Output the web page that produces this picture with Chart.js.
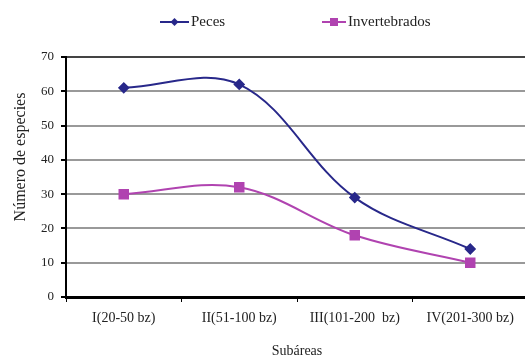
<!DOCTYPE html>
<html>
<head>
<meta charset="utf-8">
<script src="https://cdn.jsdelivr.net/npm/chart.js@4/dist/chart.umd.min.js"></script>
<style>
  html, body { margin: 0; padding: 0; background: #fff; overflow: hidden; }
  #wrap { width: 536px; height: 360px; }
</style>
</head>
<body>
<div id="wrap"><canvas id="chart" width="536" height="360"></canvas></div>
<script>
"use strict";

// data
const subareas = ["I(20-50 bz)", "II(51-100 bz)", "III(101-200  bz)", "IV(201-300 bz)"];
const peces = [61, 62, 29, 14];
const invertebrados = [30, 32, 18, 10];
const yTicks = [0, 10, 20, 30, 40, 50, 60, 70];

const SERIF = "'Liberation Serif', 'DejaVu Serif', serif";
const PECES_COLOUR = "#28288a";
const INV_COLOUR = "#b043b0";

// legend: line with marker in the middle, drawn on top of the chart
const legendPlugin = {
	id: 'lineLegend',
	afterDraw: function (chart) {
		const ctx = chart.ctx;
		const items = [
			{ ds: chart.data.datasets[0], x0: 160, x1: 189, marker: 'diamond' },
			{ ds: chart.data.datasets[1], x0: 322, x1: 346, marker: 'square' }
		];
		const y = 22;
		ctx.save();
		items.forEach(function (it) {
			ctx.strokeStyle = it.ds.borderColor;
			ctx.fillStyle = it.ds.borderColor;
			ctx.lineWidth = 2;
			ctx.beginPath();
			ctx.moveTo(it.x0, y);
			ctx.lineTo(it.x1, y);
			ctx.stroke();
			const cx = (it.x0 + it.x1) / 2;
			ctx.beginPath();
			if (it.marker === 'diamond') {
				ctx.moveTo(cx, y - 4);
				ctx.lineTo(cx + 4, y);
				ctx.lineTo(cx, y + 4);
				ctx.lineTo(cx - 4, y);
				ctx.closePath();
			} else {
				ctx.rect(cx - 4, y - 4, 8, 8);
			}
			ctx.fill();
			ctx.fillStyle = '#222';
			ctx.font = "15px " + SERIF;
			ctx.textBaseline = 'middle';
			ctx.textAlign = 'left';
			ctx.fillText(it.ds.label, it.x1 + 2, y);
		});
		ctx.restore();
	}
};

new Chart(document.getElementById('chart'), {
	type: 'line',
	data: {
		labels: subareas,
		datasets: [
			{
				label: "Peces",
				data: peces,
				borderColor: PECES_COLOUR, backgroundColor: PECES_COLOUR,
				borderWidth: 2, tension: 0.36,
				pointStyle: 'rectRot', pointRadius: 4.5, pointHoverRadius: 4.5
			},
			{
				label: "Invertebrados",
				data: invertebrados,
				borderColor: INV_COLOUR, backgroundColor: INV_COLOUR,
				borderWidth: 2, tension: 0.36,
				pointStyle: 'rect', pointRadius: 6, pointHoverRadius: 6
			}
		]
	},
	options: {
		responsive: false,
		animation: false,
		layout: { padding: { top: 57, right: 2, left: 0, bottom: 0 } },
		plugins: {
			legend: { display: false },
			tooltip: { enabled: false }
		},
		scales: {
			x: {
				type: 'category',
				offset: true,
				grid: { display: true, drawOnChartArea: false, offset: true, color: '#000', tickLength: 5, lineWidth: 1 },
				border: { color: '#000', width: 3 },
				ticks: { color: '#222', font: { family: SERIF, size: 14 }, padding: 8, maxRotation: 0, autoSkip: false },
				title: { display: true, text: "Subáreas", color: '#222', font: { family: SERIF, size: 14 }, padding: { top: 10, bottom: 0 } },
				afterFit: function (s) { s.height = 63; }
			},
			y: {
				min: 0, max: 70,
				afterBuildTicks: function (s) { s.ticks = yTicks.map(function (v) { return { value: v }; }); },
				grid: {
					color: function (c) { return c.tick && c.tick.value === 70 ? '#444' : '#999'; },
					lineWidth: 2, tickColor: '#000', tickLength: 5
				},
				border: { color: '#000', width: 2 },
				ticks: { color: '#222', font: { family: SERIF, size: 13 }, padding: 7 },
				// leading spaces lift the rotated title a little, as in the reference
				title: { display: true, text: "          Número de especies", color: '#222', font: { family: SERIF, size: 16 }, padding: { top: 11, bottom: 0 } },
				afterFit: function (s) { s.width = 66; }
			}
		}
	},
	plugins: [legendPlugin]
});
</script>
</body>
</html>
